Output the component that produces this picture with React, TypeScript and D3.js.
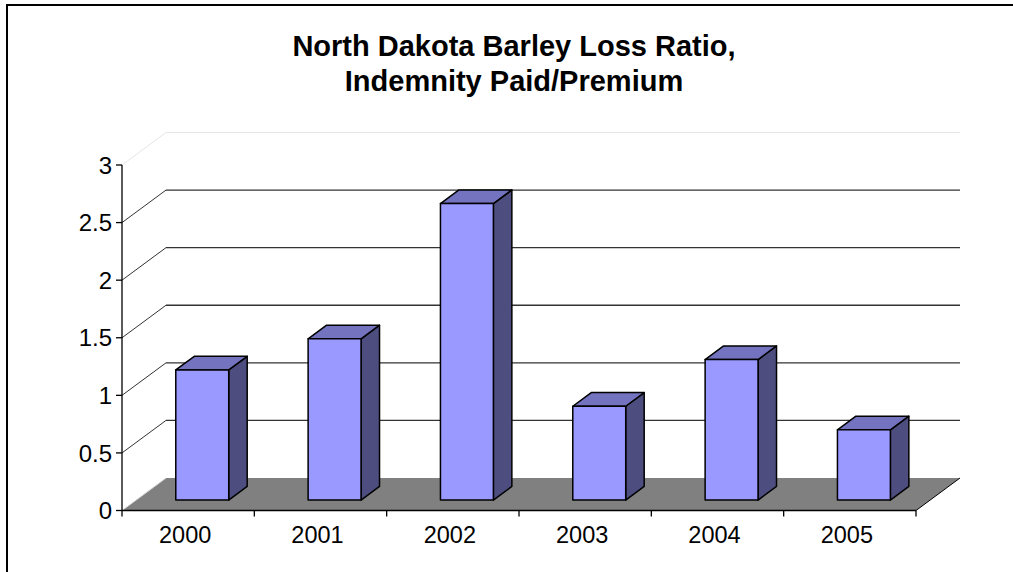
import * as d3 from "d3";

const years = ["2000", "2001", "2002", "2003", "2004", "2005"];
const lossRatio = [1.13, 1.4, 2.575, 0.815, 1.22, 0.61];
const yTicks = [0, 0.5, 1, 1.5, 2, 2.5, 3];
const yTickLabels = ["0", "0.5", "1", "1.5", "2", "2.5", "3"];

export default function App() {
  const width = 1013;
  const height = 572;
  // front plane of the 3d box
  const left = 122;
  const right = 916;
  const base = 510.5;
  const top = 165;
  // depth offset of the back wall
  const depthX = 44;
  const depthY = -32.5;
  const barFront = 0.32;
  const barBack = 0.74;

  const x = d3.scaleBand().domain(years).range([left, right]).paddingInner(0).paddingOuter(0);
  const y = d3.scaleLinear().domain([0, 3]).range([base, top]);
  const bw = x.bandwidth();

  const pt = (px: number, py: number) => `${px},${py}`;
  const floor = [
    pt(left, base),
    pt(left + depthX, base + depthY),
    pt(right + depthX, base + depthY),
    pt(right, base),
  ].join(" ");

  const font = "Liberation Sans, Arial, sans-serif";

  return (
    <svg
      width={width}
      height={height}
      style={{ position: "absolute", left: 0, top: 0, background: "#fff" }}
    >
      {/* chart frame */}
      <rect x={7} y={5} width={1100} height={700} fill="none" stroke="#000" strokeWidth={2} />

      <text x={514} y={56} textAnchor="middle" fontFamily={font} fontWeight="bold" fontSize={29}>
        North Dakota Barley Loss Ratio,
      </text>
      <text x={514} y={91} textAnchor="middle" fontFamily={font} fontWeight="bold" fontSize={29}>
        Indemnity Paid/Premium
      </text>

      {/* gridlines on side + back wall */}
      {yTicks.slice(1).map((t) => {
        const last = t === 3;
        const c = last ? "#e6e6e6" : "#333";
        return (
          <g key={t}>
            <line x1={left} y1={y(t)} x2={left + depthX} y2={y(t) + depthY} stroke={c} strokeWidth={1} />
            <line x1={left + depthX} y1={y(t) + depthY} x2={right + depthX} y2={y(t) + depthY} stroke={c} strokeWidth={last ? 1 : 1.3} />
          </g>
        );
      })}

      {/* floor */}
      <polygon points={floor} fill="#808080" />
      <line x1={left} y1={base} x2={left + depthX} y2={base + depthY} stroke="#d9d9d9" strokeWidth={1} />

      {/* bars */}
      {years.map((yr, i) => {
        const v = lossRatio[i];
        const x0 = (x(yr) as number) + bw * 0.3 + barFront * depthX;
        const x1 = (x(yr) as number) + bw * 0.7 + barFront * depthX;
        const yb = y(0) + barFront * depthY;
        const yt = y(v) + barFront * depthY;
        const ddx = (barBack - barFront) * depthX;
        const ddy = (barBack - barFront) * depthY;
        const front = [pt(x0, yt), pt(x1, yt), pt(x1, yb), pt(x0, yb)].join(" ");
        const side = [pt(x1, yt), pt(x1 + ddx, yt + ddy), pt(x1 + ddx, yb + ddy), pt(x1, yb)].join(" ");
        const topFace = [pt(x0, yt), pt(x0 + ddx, yt + ddy), pt(x1 + ddx, yt + ddy), pt(x1, yt)].join(" ");
        return (
          <g key={yr} stroke="#000" strokeWidth={1.5} strokeLinejoin="round">
            <polygon points={side} fill="#4d4d80" />
            <polygon points={topFace} fill="#7373bf" />
            <polygon points={front} fill="#9999ff" />
          </g>
        );
      })}

      {/* value axis */}
      <line x1={left} y1={top} x2={left} y2={base} stroke="#000" strokeWidth={1.3} />
      {yTicks.map((t, i) => (
        <g key={t}>
          <line x1={left - 6} y1={y(t)} x2={left} y2={y(t)} stroke="#000" strokeWidth={1.3} />
          <text x={112} y={y(t)} dy="0.36em" textAnchor="end" fontFamily={font} fontSize={24}>
            {yTickLabels[i]}
          </text>
        </g>
      ))}

      {/* category axis */}
      <line x1={left} y1={base} x2={right} y2={base} stroke="#000" strokeWidth={1.3} />
      <line x1={right} y1={base} x2={right + depthX} y2={base + depthY} stroke="#000" strokeWidth={1} />
      {[...years.map((yr) => x(yr) as number), right].map((tx, i) => (
        <line key={i} x1={tx} y1={base} x2={tx} y2={base + 6} stroke="#000" strokeWidth={1.3} />
      ))}
      {years.map((yr) => (
        <text key={yr} x={(x(yr) as number) + bw / 2 - 3} y={543} textAnchor="middle" fontFamily={font} fontSize={23.5}>
          {yr}
        </text>
      ))}
    </svg>
  );
}
